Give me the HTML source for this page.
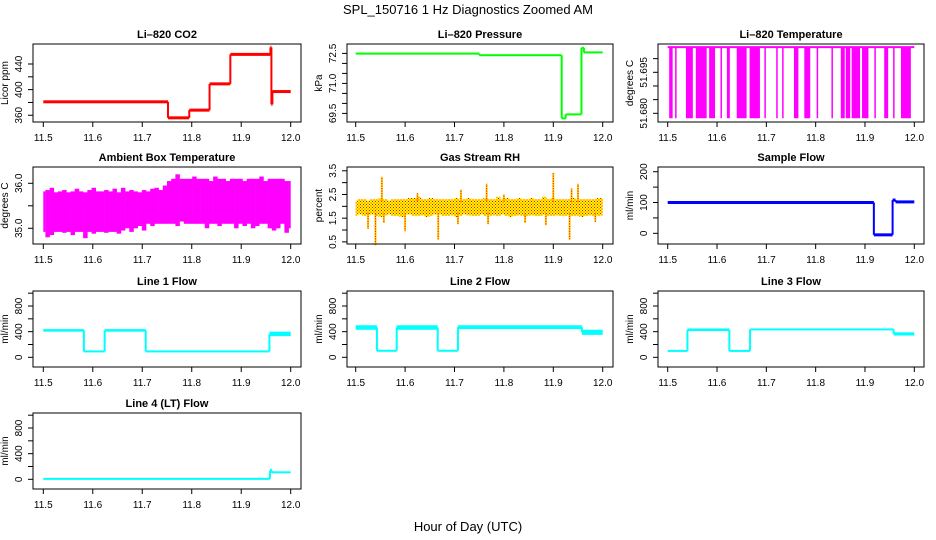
<!DOCTYPE html>
<html><head><meta charset="utf-8"><style>
html,body{margin:0;padding:0;background:#fff}
svg{display:block;font-family:"Liberation Sans",sans-serif}
</style></head><body>
<svg id="fig" width="936" height="540" viewBox="0 0 936 540">
<defs>
<pattern id="rhdots" width="3" height="3" patternUnits="userSpaceOnUse">
<rect width="3" height="3" fill="#ffff00"/><rect x="0" y="0" width="1" height="1" fill="#ff0000"/><rect x="1.5" y="1.5" width="1" height="1" fill="#ff0000"/>
</pattern>
</defs>
<text x="468" y="14" text-anchor="middle" font-size="13">SPL_150716  1 Hz Diagnostics Zoomed AM</text>
<text x="468" y="531" text-anchor="middle" font-size="13">Hour of Day (UTC)</text>
</svg>
<script>
// ---- data ----
const xTicks = [11.5, 11.6, 11.7, 11.8, 11.9, 12.0];
const xTickLabels = ["11.5", "11.6", "11.7", "11.8", "11.9", "12.0"];

const co2Times = [11.5, 11.752, 11.795, 11.836, 11.878, 11.959, 11.961, 11.963, 12.0];
const co2Values = [381, 356, 368, 409, 455, 466, 377, 397];

const pressTimes = [11.5, 11.75, 11.917, 11.925, 11.957, 11.962, 12.0];
const pressValues = [72.49, 72.41, 69.25, 69.45, 72.78, 72.55];

const tempDropStart = [11.503, 11.515, 11.537, 11.557, 11.584, 11.607, 11.620, 11.640, 11.666, 11.696, 11.720, 11.732, 11.756, 11.777, 11.802, 11.832, 11.851, 11.861, 11.873, 11.894, 11.919, 11.939, 11.957, 11.973];
const tempDropEnd   = [11.510, 11.518, 11.551, 11.579, 11.596, 11.608, 11.626, 11.660, 11.687, 11.699, 11.721, 11.734, 11.765, 11.789, 11.803, 11.833, 11.859, 11.870, 11.890, 11.907, 11.922, 11.947, 11.958, 11.993];
const tempHigh = 51.7042;
const tempLow = 51.6782;

const ambHi = [35.82,35.85,35.9,35.8,35.82,35.85,35.8,35.82,35.88,35.82,35.8,35.85,35.9,35.82,35.82,35.85,35.82,35.88,35.8,35.9,35.82,35.85,35.82,35.8,35.85,35.82,35.88,35.9,35.85,35.95,
               36.05,36.1,36.2,36.1,36.1,36.1,36.15,36.1,36.1,36.1,36.05,36.15,36.1,36.1,36.05,36.1,36.1,36.1,36.05,36.1,36.1,36.1,36.15,36.05,36.1,36.1,36.1,36.1,36.05,36.05];
const ambLo = [34.92,34.8,34.85,34.92,34.92,34.9,34.92,34.85,34.92,34.92,34.78,34.92,34.88,34.92,34.92,34.9,34.92,34.92,34.88,34.95,35.0,34.92,35.0,35.05,34.95,35.1,35.05,35.1,35.1,35.1,
               35.1,35.1,35.05,35.15,35.1,35.1,35.1,35.1,35.1,35.0,35.1,35.1,35.05,35.1,35.1,35.1,35.0,35.1,35.05,35.1,35.0,35.05,35.1,35.1,35.0,34.95,35.0,35.1,34.9,35.0];

const rhHi = [2.25,2.3,2.3,2.25,2.3,2.3,2.35,2.3,2.25,2.3,2.3,2.3,2.3,2.35,2.35,2.4,2.3,2.3,2.35,2.3,2.3,2.3,2.3,2.3,2.35,2.3,2.3,2.35,2.3,2.3,
              2.3,2.35,2.3,2.3,2.4,2.3,2.35,2.3,2.3,2.35,2.3,2.3,2.35,2.3,2.3,2.4,2.3,2.35,2.3,2.3,2.3,2.3,2.35,2.3,2.3,2.3,2.3,2.3,2.35,2.35];
const rhLo = [1.6,1.65,1.6,1.62,1.65,1.6,1.55,1.62,1.65,1.6,1.6,1.55,1.65,1.65,1.6,1.6,1.62,1.55,1.6,1.65,1.65,1.6,1.6,1.62,1.55,1.6,1.65,1.62,1.6,1.6,
              1.65,1.6,1.6,1.62,1.6,1.65,1.6,1.55,1.6,1.62,1.6,1.6,1.62,1.6,1.6,1.65,1.6,1.6,1.62,1.6,1.6,1.62,1.6,1.6,1.55,1.6,1.62,1.6,1.6,1.62];
const rhSpikeT = [11.525, 11.54, 11.553, 11.557, 11.60, 11.625, 11.667, 11.707, 11.713, 11.765, 11.768, 11.80, 11.843, 11.885, 11.90, 11.933, 11.937, 11.95, 11.985];
const rhSpikeV = [1.05, 0.35, 3.25, 1.3, 0.95, 2.55, 0.6, 1.25, 2.7, 2.95, 1.25, 2.5, 1.3, 1.2, 3.4, 0.6, 2.75, 2.95, 1.35];

const sfTimes = [11.5, 11.918, 11.956, 11.962, 12.0];
const sfValues = [100, -5, 108, 102];

const l1Times = [11.5, 11.582, 11.624, 11.707, 11.957, 12.0];
const l1Lo = [400, 88, 400, 88, 330];
const l1Hi = [440, 96, 440, 96, 400];
const l2Times = [11.5, 11.543, 11.583, 11.666, 11.707, 11.958, 12.0];
const l2Lo = [430, 96, 430, 96, 440, 350];
const l2Hi = [500, 108, 500, 108, 500, 430];
const l3Times = [11.5, 11.54, 11.625, 11.667, 11.958, 12.0];
const l3Lo = [95, 410, 95, 420, 340];
const l3Hi = [105, 450, 105, 450, 390];
const l4Times = [11.5, 11.958, 11.962, 12.0];
const l4Lo = [0, 100, 100];
const l4Hi = [14, 165, 118];

const flowTicks = [0, 200, 400, 600, 800, 1000];
const flowTickLabels = ["0", "", "400", "", "800", ""];

// ---- layout ----
const NS = "http://www.w3.org/2000/svg";
const svg = document.getElementById("fig");
const cols = [{x0:33,x1:301,a:43.3,b:290.7},{x0:347,x1:613,a:355.7,b:602.7},{x0:658,x1:924,a:667.7,b:914.3}];
const rows = [{y0:44,y1:122},{y0:167,y1:244},{y0:291,y1:367},{y0:413,y1:489}];

function mk(tag, attrs, parent) {
  const e = document.createElementNS(NS, tag);
  for (const k in attrs) e.setAttribute(k, attrs[k]);
  (parent || svg).appendChild(e);
  return e;
}

function panel(col, row, name, title, ylab, dom, yTicks, yLabels) {
  const c = cols[col], r = rows[row];
  const g = mk("g", {});
  
  
  const xs = h => c.a + (h - 11.5) * (c.b - c.a) / 0.5;
  const ys = v => r.y1 - (v - dom[0]) / (dom[1] - dom[0]) * (r.y1 - r.y0);
  const t = mk("text", {x:(c.x0+c.x1)/2, y:r.y0-6, "text-anchor":"middle", "font-size":"11", "font-weight":"bold"}, g);
  t.textContent = title;
  
  
  const plot = mk("g", {}, g);
  
  
  const xa = mk("g", {stroke:"#000","stroke-width":"1"}, g);
  
  
  mk("line", {x1:xs(xTicks[0]), x2:xs(xTicks[xTicks.length-1]), y1:r.y1, y2:r.y1}, xa);
  xTicks.forEach((v, i) => {
    mk("line", {x1:xs(v), x2:xs(v), y1:r.y1, y2:r.y1+5}, xa);
    const tl = mk("text", {x:xs(v), y:r.y1+19, "text-anchor":"middle", "font-size":"10", stroke:"none"}, xa);
    tl.textContent = xTickLabels[i];
    
    
  });
  const ya = mk("g", {stroke:"#000","stroke-width":"1"}, g);
  
  
  mk("line", {x1:c.x0, x2:c.x0, y1:ys(yTicks[0]), y2:ys(yTicks[yTicks.length-1])}, ya);
  yTicks.forEach((v, i) => {
    mk("line", {x1:c.x0-5, x2:c.x0, y1:ys(v), y2:ys(v)}, ya);
    if (yLabels[i]) {
      const tx = c.x0 - 11, ty = ys(v);
      const tl = mk("text", {x:tx, y:ty, "text-anchor":"middle", "font-size":"10", stroke:"none", transform:`rotate(-90 ${tx} ${ty})`}, ya);
      tl.textContent = yLabels[i];
      
      
    }
  });
  const lx = c.x0 - 25, ly = (r.y0 + r.y1) / 2;
  const yl = mk("text", {x:lx, y:ly, "text-anchor":"middle", "font-size":"10", transform:`rotate(-90 ${lx} ${ly})`}, g);
  yl.textContent = ylab;
  
  
  mk("rect", {x:c.x0, y:r.y0, width:c.x1-c.x0, height:r.y1-r.y0, fill:"none", stroke:"#000"}, g);
  return {xs, ys, plot};
}

function steps(p, times, lo, hi, color, minH) {
  for (let i = 0; i < lo.length; i++) {
    const x0 = p.xs(times[i]), x1 = p.xs(times[i+1]);
    let yt = p.ys(hi[i]), yb = p.ys(lo[i]);
    if (yb - yt < minH) { const m = (yt + yb) / 2; yt = m - minH/2; yb = m + minH/2; }
    const s = mk("rect", {x:x0, y:yt, width:Math.max(x1-x0,1), height:yb-yt, fill:color}, p.plot);
    
    
    if (i + 1 < lo.length) {
      const a = p.ys((lo[i]+hi[i])/2), b = p.ys((lo[i+1]+hi[i+1])/2);
      const v = mk("line", {x1:x1, x2:x1, y1:a, y2:b, stroke:color, "stroke-width":"2"}, p.plot);
      
      
    }
  }
}

let p = panel(0, 0, "co2", "Li\u2013820 CO2", "Licor ppm", [349.5, 471.2], [360,380,400,420,440], ["360","","400","","440"]);
steps(p, co2Times, co2Values, co2Values, "#ff0000", 3);

p = panel(1, 0, "pressure", "Li\u2013820 Pressure", "kPa", [69.07, 72.97], [69.5,70.0,70.5,71.0,71.5,72.0,72.5], ["69.5","","","71.0","","","72.5"]);
steps(p, pressTimes, pressValues, pressValues, "#00ff00", 2);

p = panel(2, 0, "li820-temp", "Li\u2013820 Temperature", "degrees C", [51.67682, 51.70535], [51.680,51.685,51.690,51.695,51.700], ["51.680","","","51.695",""]);
{
  const top = mk("line", {x1:p.xs(11.5), x2:p.xs(12.0), y1:p.ys(tempHigh), y2:p.ys(tempHigh), stroke:"#ff00ff", "stroke-width":"2"}, p.plot);
  
  
  tempDropStart.forEach((s, i) => {
    const x0 = p.xs(s), x1 = p.xs(tempDropEnd[i]);
    const r = mk("rect", {x:x0, y:p.ys(tempHigh), width:Math.max(x1-x0,1.5), height:p.ys(tempLow)-p.ys(tempHigh), fill:"#ff00ff"}, p.plot);
    
    
  });
}

p = panel(0, 1, "ambient-temp", "Ambient Box Temperature", "degrees C", [34.651, 36.362], [35.0,35.5,36.0], ["35.0","","36.0"]);
{
  const n = ambHi.length, w = (p.xs(12.0) - p.xs(11.5)) / (n - 1);
  ambHi.forEach((h, i) => {
    const x = p.xs(11.5 + i * 0.5 / (n - 1));
    const r = mk("rect", {x:x - w/2 + (i === 0 ? w/2 : 0), y:p.ys(h), width:(i === 0 || i === n-1) ? w/2 : w + 0.3, height:p.ys(ambLo[i]) - p.ys(h), fill:"#ff00ff"}, p.plot);
    
    
  });
}

p = panel(1, 1, "rh", "Gas Stream RH", "percent", [0.41, 3.66], [0.5,1.0,1.5,2.0,2.5,3.0,3.5], ["0.5","","1.5","","2.5","","3.5"]);
{
  const n = rhHi.length, w = (p.xs(12.0) - p.xs(11.5)) / (n - 1);
  rhHi.forEach((h, i) => {
    const x = p.xs(11.5 + i * 0.5 / (n - 1));
    const r = mk("rect", {x:x - w/2 + (i === 0 ? w/2 : 0), y:p.ys(h), width:(i === 0 || i === n-1) ? w/2 : w + 0.3, height:p.ys(rhLo[i]) - p.ys(h), fill:"url(#rhdots)"}, p.plot);
    
    
  });
  rhSpikeT.forEach((t, i) => {
    const v = rhSpikeV[i], base = v > 2 ? 2.2 : 1.7;
    const l = mk("line", {x1:p.xs(t), x2:p.xs(t), y1:p.ys(base), y2:p.ys(v), stroke:"#ffcc00", "stroke-width":"2"}, p.plot);
    
    
    const l2 = mk("line", {x1:p.xs(t), x2:p.xs(t), y1:p.ys(base), y2:p.ys(v), stroke:"#ff0000", "stroke-width":"1", "stroke-dasharray":"1 1.5"}, p.plot);
    
    
  });
}

p = panel(2, 1, "sample-flow", "Sample Flow", "ml/min", [-34.7, 215.3], [0,50,100,150,200], ["0","","100","","200"]);
steps(p, sfTimes, sfValues, sfValues, "#0000ff", 3);

p = panel(0, 2, "line1-flow", "Line 1 Flow", "ml/min", [-151, 1034], flowTicks, flowTickLabels);
steps(p, l1Times, l1Lo, l1Hi, "#00ffff", 2);
p = panel(1, 2, "line2-flow", "Line 2 Flow", "ml/min", [-151, 1034], flowTicks, flowTickLabels);
steps(p, l2Times, l2Lo, l2Hi, "#00ffff", 2);
p = panel(2, 2, "line3-flow", "Line 3 Flow", "ml/min", [-151, 1034], flowTicks, flowTickLabels);
steps(p, l3Times, l3Lo, l3Hi, "#00ffff", 2);
p = panel(0, 3, "line4-flow", "Line 4 (LT) Flow", "ml/min", [-151, 1034], flowTicks, flowTickLabels);
steps(p, l4Times, l4Lo, l4Hi, "#00ffff", 2);
</script>
</body></html>
